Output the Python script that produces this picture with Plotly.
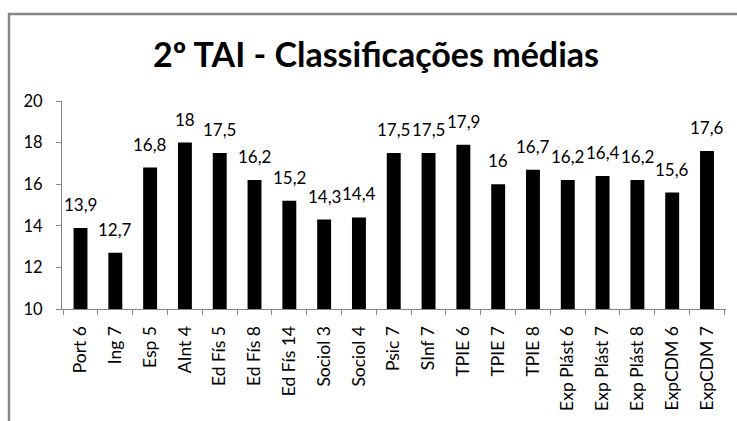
import plotly.graph_objects as go

categories = ["Port 6", "Ing 7", "Esp 5", "AInt 4", "Ed Fís 5", "Ed Fís 8", "Ed Fís 14",
              "Sociol 3", "Sociol 4", "Psic 7", "SInf 7", "TPIE 6", "TPIE 7", "TPIE 8",
              "Exp Plást 6", "Exp Plást 7", "Exp Plást 8", "ExpCDM 6", "ExpCDM 7"]
values = [13.9, 12.7, 16.8, 18, 17.5, 16.2, 15.2, 14.3, 14.4, 17.5, 17.5, 17.9, 16, 16.7,
          16.2, 16.4, 16.2, 15.6, 17.6]
y_ticks = [10, 12, 14, 16, 18, 20]
title_text = "2º TAI - Classificações médias"

labels = [f"{v:g}".replace(".", ",") for v in values]

W, H = 737, 421
L, R, T, B = 62, 11, 101, 112
pw, ph = W - L - R, H - T - B

def px_x(p):
    return (p - L) / pw

def px_y(p):
    return (H - B - p) / ph

FONT = "Lato"

fig = go.Figure(go.Bar(
    x=categories, y=values,
    marker=dict(color="black", line=dict(width=0)),
    hoverinfo="x+y",
))

for c, v, t in zip(categories, values, labels):
    fig.add_annotation(x=c, y=v, text=t, showarrow=False, xanchor="center", yanchor="bottom",
                       yshift=11, font=dict(family=FONT, size=17, color="black"))

fig.update_layout(
    width=W, height=H,
    margin=dict(l=L, r=R, t=T, b=B),
    paper_bgcolor="white", plot_bgcolor="white",
    bargap=0.6,
    showlegend=False,
    title=dict(text="<b>" + title_text + "</b>", x=px_x(376), xref="paper", xanchor="center",
               y=1 - 55 / H, yanchor="middle",
               font=dict(family=FONT, size=34, color="black")),
    font=dict(family=FONT, size=16, color="black"),
    xaxis=dict(
        type="category", showline=True, linecolor="#868686", linewidth=1,
        ticks="outside", tickson="boundaries", ticklen=5, tickcolor="#868686",
        tickangle=-90, tickfont=dict(family=FONT, size=17.5, color="black"),
        ticklabelstandoff=9,
        showgrid=False,
    ),
    yaxis=dict(
        range=[10, 20], tickvals=y_ticks, showline=True, linecolor="#868686", linewidth=1,
        ticks="outside", ticklen=5, tickcolor="#868686", showgrid=False, zeroline=False,
        tickfont=dict(family=FONT, size=16.5, color="black"),
        ticklabelstandoff=10,
    ),
    shapes=[dict(type="path", xref="paper", yref="paper",
                 path=f"M {px_x(9)} {px_y(440)} L {px_x(9)} {px_y(14)} L {px_x(760)} {px_y(14)}",
                 line=dict(color="#868686", width=2.5))],
)

fig.write_html("out.html", config={"displayModeBar": False},
               post_script="document.body.style.margin='0';")
